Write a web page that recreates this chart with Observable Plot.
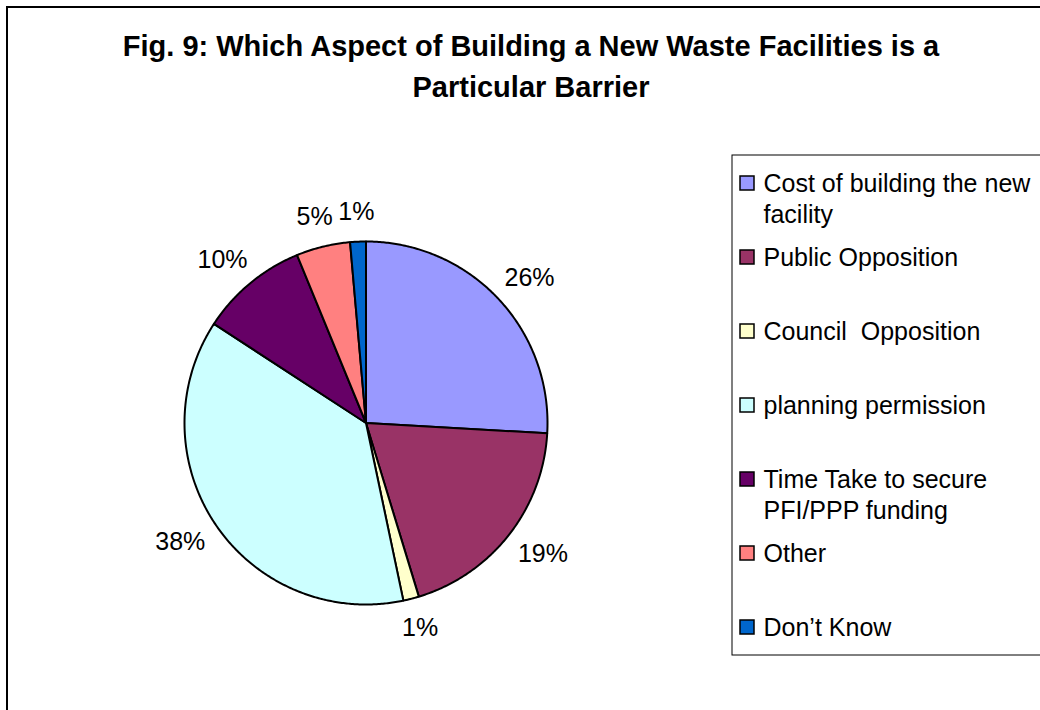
<!DOCTYPE html>
<html><head><meta charset="utf-8">
<script src="https://cdn.jsdelivr.net/npm/d3@7"></script>
<script src="https://cdn.jsdelivr.net/npm/@observablehq/plot@0.6"></script>
<style>
body{margin:0;background:#fff;font-family:"Liberation Sans",Arial,sans-serif;}
#wrap{position:relative;width:1040px;height:710px;overflow:hidden;background:#fff;}
#frame{position:absolute;left:6px;top:6px;width:1100px;height:800px;border-left:2px solid #000;border-top:2px solid #000;}
#title{position:absolute;left:10px;top:26px;width:1042px;text-align:center;font-weight:bold;font-size:29px;line-height:41px;color:#000;}
#chart{position:absolute;left:0;top:120px;}
#chart text{white-space:pre;}
</style>
</head><body>
<div id="wrap"><div id="frame"></div>
<div id="title">Fig. 9: Which Aspect of Building a New Waste Facilities is a<br>Particular Barrier</div>
<div id="chart"></div></div>
<script>
const categories = ["Cost of building the new facility","Public Opposition","Council  Opposition","planning permission","Time Take to secure PFI/PPP funding","Other","Don’t Know"];
const values = [25.9, 19.4, 1.4, 37.5, 9.6, 4.8, 1.4];
const colors = ["#9999FF","#993366","#FFFFCC","#CCFFFF","#660066","#FF8080","#0066CC"];
const legendLines = [["Cost of building the new","facility"],["Public Opposition"],["Council  Opposition"],["planning permission"],["Time Take to secure","PFI/PPP funding"],["Other"],["Don’t Know"]];

const cx = 365.5, cy = 422.5, R = 181.5;
const total = d3.sum(values);
const pieRows = [];
const labelRows = [];
let acc = 0;
values.forEach((v, i) => {
  const a0 = acc / total * 2 * Math.PI;
  acc += v;
  const a1 = acc / total * 2 * Math.PI;
  const pts = [[cx, cy]];
  const n = Math.max(2, Math.ceil((a1 - a0) / (Math.PI / 360)));
  for (let k = 0; k <= n; k++) {
    const a = a0 + (a1 - a0) * k / n;
    pts.push([cx + R * Math.sin(a), cy - R * Math.cos(a)]);
  }
  pts.push([cx, cy]);
  pts.forEach(([x, y]) => pieRows.push({cat: categories[i], x, y}));
  const am = (a0 + a1) / 2, dx = Math.sin(am), dy = -Math.cos(am);
  const text = Math.round(v) + "%";
  const hw = text.length * 0.6 * 25 / 2 + 1, hh = 10;
  const rr = R + 20;
  labelRows.push({x: cx + rr * dx + dx * hw, y: cy + rr * dy + dy * hh, text});
});

const legTop = 183, pitch = 74, lh = 31;
const legText = [], legSw = [];
legendLines.forEach((lines, i) => {
  const y0 = legTop + pitch * i;
  lines.forEach((t, j) => legText.push({x: 763, y: y0 + lh * j, t}));
  legSw.push({cat: categories[i], x1: 740, x2: 754, y1: y0 - 7, y2: y0 + 7});
});

const chart = Plot.plot({
  width: 1040, height: 590, margin: 0,
  x: {type: "linear", domain: [0, 1040], range: [0, 1040], axis: null},
  y: {type: "linear", domain: [120, 710], range: [0, 590], axis: null},
  color: {domain: categories, range: colors},
  style: {fontFamily: "'Liberation Sans', Arial, sans-serif", background: "transparent", overflow: "visible"},
  marks: [
    Plot.line(pieRows, {x: "x", y: "y", z: "cat", fill: "cat", stroke: "#000", strokeWidth: 2, strokeLinejoin: "round"}),
    Plot.text(labelRows, {x: "x", y: "y", text: "text", fontSize: 25, fill: "#000", textAnchor: "middle"}),
    Plot.rect([{x1: 732, x2: 1200, y1: 155, y2: 655}], {x1: "x1", x2: "x2", y1: "y1", y2: "y2", fill: "none", stroke: "#000", strokeWidth: 1}),
    Plot.rect(legSw, {x1: "x1", x2: "x2", y1: "y1", y2: "y2", fill: "cat", stroke: "#000", strokeWidth: 1.5}),
    Plot.text(legText, {x: "x", y: "y", text: "t", fontSize: 25, fill: "#000", textAnchor: "start"})
  ]
});
document.getElementById("chart").appendChild(chart);
</script>
</body></html>
